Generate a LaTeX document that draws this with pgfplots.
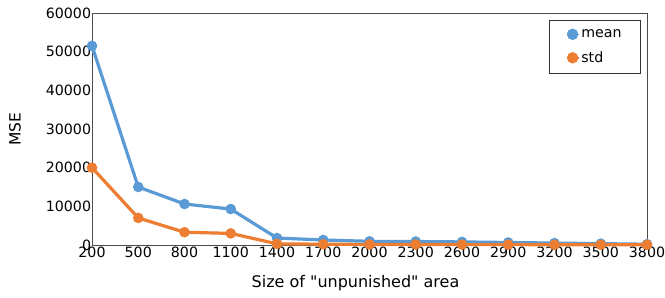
\documentclass[border=0pt]{standalone}
\usepackage{pgfplots}
\pgfplotsset{compat=1.18}
\usepackage{fontspec}
\setmainfont[Ligatures=TeXOff]{DejaVu Sans}
\definecolor{cmean}{RGB}{91,155,213}
\definecolor{cstd}{RGB}{237,125,49}
\begin{document}
\fontsize{14.2}{17}\selectfont
\begin{tikzpicture}
\begin{axis}[
  name=ax,
  scale only axis,
  width=555pt, height=232pt,
  xmin=200, xmax=3800, ymin=0, ymax=60000,
  xtick={200,500,...,3800},
  ytick={0,10000,...,60000},
  /pgf/number format/assume math mode=true,
  xticklabel style={/pgf/number format/.cd,fixed,set thousands separator={}},
  yticklabel style={/pgf/number format/.cd,fixed,set thousands separator={}},
  scaled y ticks=false,
  scaled x ticks=false,
  tick style={draw=none},
  axis line style={draw=black!70, line width=0.8pt},
  xticklabel shift=-3pt, yticklabel shift=-4pt,
  xlabel={Size of "unpunished" area},
  ylabel={MSE},
  every axis x label/.style={at={([xshift=-14pt,yshift=-38pt]axis description cs:0.5,0)},anchor=center, font=\fontsize{16}{19}\selectfont},
  every axis y label/.style={at={([xshift=-77pt]axis description cs:0,0.5)},rotate=90,anchor=center, font=\fontsize{15.5}{18}\selectfont},
  legend style={at={(0.989,0.97)},anchor=north east, draw=black!80, line width=0.6pt, font=\fontsize{14.2}{17}\selectfont, row sep=8pt, inner xsep=17pt, inner ysep=7pt},
  legend cell align=left,
  legend image code/.code={\draw[#1, line width=1.5pt] (0pt,0pt) -- (12pt,0pt); \fill[#1] (6pt,0pt) circle (4pt);},
  clip=false,
]
\addplot[color=cmean, line width=3.2pt, mark=*, mark size=3.6pt] coordinates {
(200,51500) (500,15000) (800,10600) (1100,9300) (1400,1800) (1700,1300) (2000,950) (2300,900) (2600,800) (2900,650) (3200,500) (3500,350) (3800,200)};
\addlegendentry{mean}
\addplot[color=cstd, line width=3.2pt, mark=*, mark size=3.6pt] coordinates {
(200,20000) (500,7000) (800,3300) (1100,3000) (1400,300) (1700,200) (2000,150) (2300,150) (2600,100) (2900,100) (3200,80) (3500,60) (3800,40)};
\addlegendentry{std}
\end{axis}
\pgfresetboundingbox
\useasboundingbox ([xshift=-92pt,yshift=-52pt]ax.south west) rectangle ([xshift=18pt,yshift=13pt]ax.north east);
\end{tikzpicture}
\end{document}
